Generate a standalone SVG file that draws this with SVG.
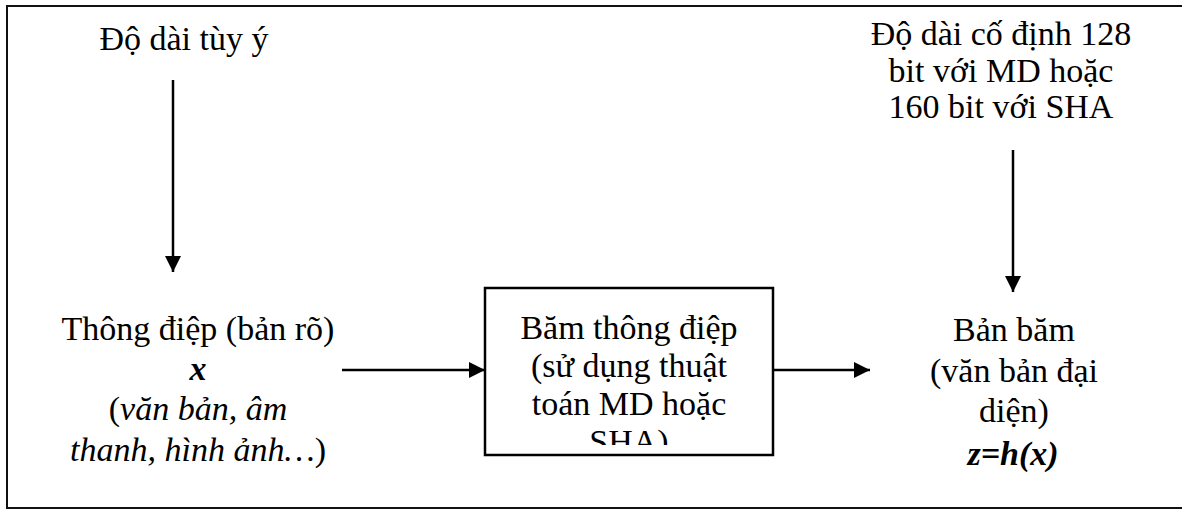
<svg xmlns="http://www.w3.org/2000/svg" width="1182" height="510" viewBox="0 0 1182 510">
  <style>
    text { font-family: "Liberation Serif", "Times New Roman", "DejaVu Serif", serif; font-size: 34px; fill: #000; text-anchor: middle; }
    .it { font-style: italic; }
    .bi { font-style: italic; font-weight: bold; }
    .frame { fill: #fff; stroke: #111; stroke-width: 2; }
    .box { fill: #fff; stroke: #000; stroke-width: 2.5; }
    .conn { stroke: #000; stroke-width: 2.5; fill: none; marker-end: url(#arrow); }
  </style>
  <defs>
    <marker id="arrow" viewBox="0 0 10 10" refX="10" refY="5" markerWidth="6.4" markerHeight="6.4" markerUnits="strokeWidth" orient="auto">
      <path d="M0,0 L10,5 L0,10 z" fill="#000"/>
    </marker>
    <clipPath id="boxClip">
      <rect x="487" y="290" width="284" height="155"/>
    </clipPath>
  </defs>

  <!-- outer frame -->
  <rect class="frame" x="7" y="6" width="1185" height="502"/>

  <g id="connectors">
    <line class="conn" x1="173" y1="80" x2="173" y2="272"/>
    <line class="conn" x1="1013" y1="150" x2="1013" y2="292"/>
    <line class="conn" x1="342" y1="370" x2="485" y2="370"/>
    <line class="conn" x1="773" y1="370" x2="870" y2="370"/>
  </g>

  <g id="input-length">
    <text x="184" y="50">&#x110;&#x1ED9; d&#xE0;i t&#xF9;y &#xFD;</text>
  </g>

  <g id="output-length">
    <text x="1001" y="45">&#x110;&#x1ED9; d&#xE0;i c&#x1ED1; &#x111;&#x1ECB;nh 128</text>
    <text x="1001" y="82">bit v&#x1EDB;i MD ho&#x1EB7;c</text>
    <text x="1001" y="118">160 bit v&#x1EDB;i SHA</text>
  </g>

  <g id="message">
    <text x="198" y="340">Th&#xF4;ng &#x111;i&#x1EC7;p (b&#x1EA3;n r&#xF5;)</text>
    <text x="198" y="380" class="bi">x</text>
    <text x="198" y="420">(<tspan class="it">v&#x103;n b&#x1EA3;n, &#xE2;m</tspan></text>
    <text x="198" y="461"><tspan class="it">thanh, h&#xEC;nh &#x1EA3;nh&#x2026;</tspan>)</text>
  </g>

  <g id="hash-function">
    <rect class="box" x="485" y="288" width="288" height="167"/>
    <g clip-path="url(#boxClip)">
      <text x="629" y="339">B&#x103;m th&#xF4;ng &#x111;i&#x1EC7;p</text>
      <text x="629" y="377">(s&#x1EED; d&#x1EE5;ng thu&#x1EAD;t</text>
      <text x="629" y="415">to&#xE1;n MD ho&#x1EB7;c</text>
      <text x="629" y="453">SHA)</text>
    </g>
  </g>

  <g id="digest">
    <text x="1014" y="341">B&#x1EA3;n b&#x103;m</text>
    <text x="1014" y="382">(v&#x103;n b&#x1EA3;n &#x111;&#x1EA1;i</text>
    <text x="1014" y="422">di&#x1EC7;n)</text>
    <text x="1013" y="465" class="bi">z=h(x)</text>
  </g>
</svg>
